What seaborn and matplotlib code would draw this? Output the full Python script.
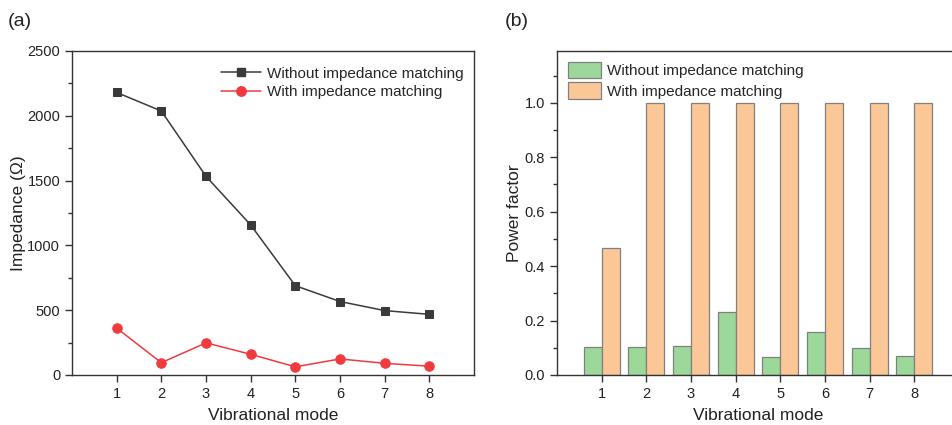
import numpy as np
import pandas as pd
import matplotlib
matplotlib.use("Agg")
import matplotlib.pyplot as plt
from matplotlib.ticker import MultipleLocator
from matplotlib.lines import Line2D
import seaborn as sns

# ---- data ----
modes = [1, 2, 3, 4, 5, 6, 7, 8]
imp_without = [2180, 2037, 1533, 1158, 689, 567, 497, 468]
imp_with = [362, 95, 248, 160, 63, 124, 90, 68]
pf_without = [0.102, 0.104, 0.108, 0.233, 0.065, 0.157, 0.098, 0.069]
pf_with = [0.466, 1.0, 1.0, 1.0, 1.0, 1.0, 1.0, 1.0]
series_names = ["Without impedance matching", "With impedance matching"]

sns.set_theme(style="ticks")
plt.rcParams['font.family'] = ['Liberation Sans', 'DejaVu Sans']
plt.rcParams['axes.linewidth'] = 1.0
plt.rcParams['xtick.direction'] = 'out'
plt.rcParams['ytick.direction'] = 'out'

df_imp = pd.DataFrame({
    "mode": modes * 2,
    "imp": imp_without + imp_with,
    "cond": [series_names[0]] * len(modes) + [series_names[1]] * len(modes),
})
df_pf = pd.DataFrame({
    "mode": modes * 2,
    "pf": pf_without + pf_with,
    "cond": [series_names[0]] * len(modes) + [series_names[1]] * len(modes),
})

fig = plt.figure(figsize=(9.52, 4.25), dpi=100)
W, H = 952, 425
ax1 = fig.add_axes([72 / W, 1 - 375 / H, (474 - 72) / W, (375 - 51) / H])
ax2 = fig.add_axes([557 / W, 1 - 375 / H, (959 - 557) / W, (375 - 51) / H])

line_colors = ["#3a3a3a", "#f03a3e"]
msizes = [5.5, 6.8]
sns.lineplot(data=df_imp, x="mode", y="imp", hue="cond", style="cond",
             markers=["s", "o"], dashes=False, palette=line_colors,
             markersize=6, linewidth=1.1, ax=ax1, legend=False)
for ln, c, ms in zip(ax1.lines, line_colors, msizes):
    ln.set_markeredgecolor(c)
    ln.set_markerfacecolor(c)
    ln.set_markersize(ms)

handles = [Line2D([], [], color=line_colors[0], marker="s", markersize=msizes[0], lw=1.1),
           Line2D([], [], color=line_colors[1], marker="o", markersize=msizes[1], lw=1.1)]
ax1.legend(handles, series_names, loc="upper right", frameon=False,
           fontsize=11, handlelength=2.6, handletextpad=0.4,
           borderaxespad=0.3, labelspacing=0.3, bbox_to_anchor=(1.0, 0.985))

ax1.set_xlim(0, 9)
ax1.set_ylim(0, 2500)
ax1.set_xticks(modes)
ax1.yaxis.set_major_locator(MultipleLocator(500))
ax1.yaxis.set_minor_locator(MultipleLocator(250))
ax1.set_xlabel("Vibrational mode", fontsize=12.5, labelpad=5)
ax1.set_ylabel("Impedance (Ω)", fontsize=12.5, labelpad=1)

bar_colors = ["#9dd89b", "#fbc797"]
sns.barplot(data=df_pf, x="mode", y="pf", hue="cond", native_scale=True,
            palette=bar_colors, edgecolor="#808080", linewidth=0.9,
            width=0.8, errorbar=None, ax=ax2, saturation=1)
ax2.legend(loc="upper left", frameon=False, fontsize=11,
           handlelength=2.2, handleheight=1.3, handletextpad=0.4,
           borderaxespad=0.3, labelspacing=0.25, bbox_to_anchor=(0.0, 1.0))
ax2.set_xlim(0, 9)
ax2.set_ylim(0, 1.19)
ax2.set_xticks(modes)
ax2.set_xticklabels([str(m) for m in modes])
ax2.yaxis.set_major_locator(MultipleLocator(0.2))
ax2.yaxis.set_minor_locator(MultipleLocator(0.1))
ax2.yaxis.set_major_formatter(matplotlib.ticker.FormatStrFormatter("%.1f"))
ax2.set_xlabel("Vibrational mode", fontsize=12.5, labelpad=5)
ax2.set_ylabel("Power factor", fontsize=12.5, labelpad=2)

for ax in (ax1, ax2):
    for s in ax.spines.values():
        s.set_visible(True)
        s.set_color("#333333")
        s.set_linewidth(1.0)
    ax.tick_params(which="major", length=5, width=1.0, labelsize=10.5,
                   color="#333333", labelcolor="#222222", top=False, right=False)
    ax.tick_params(which="minor", length=3, width=1.0, color="#333333",
                   top=False, right=False)
    ax.tick_params(axis="x", which="minor", bottom=False)
    ax.xaxis.label.set_color("#222222")
    ax.yaxis.label.set_color("#222222")

fig.text(8 / W, 1 - 22 / H, "(a)", fontsize=14, va="center", ha="left", color="#222222")
fig.text(505 / W, 1 - 22 / H, "(b)", fontsize=14, va="center", ha="left", color="#222222")

fig.savefig("out.png", dpi=100)
